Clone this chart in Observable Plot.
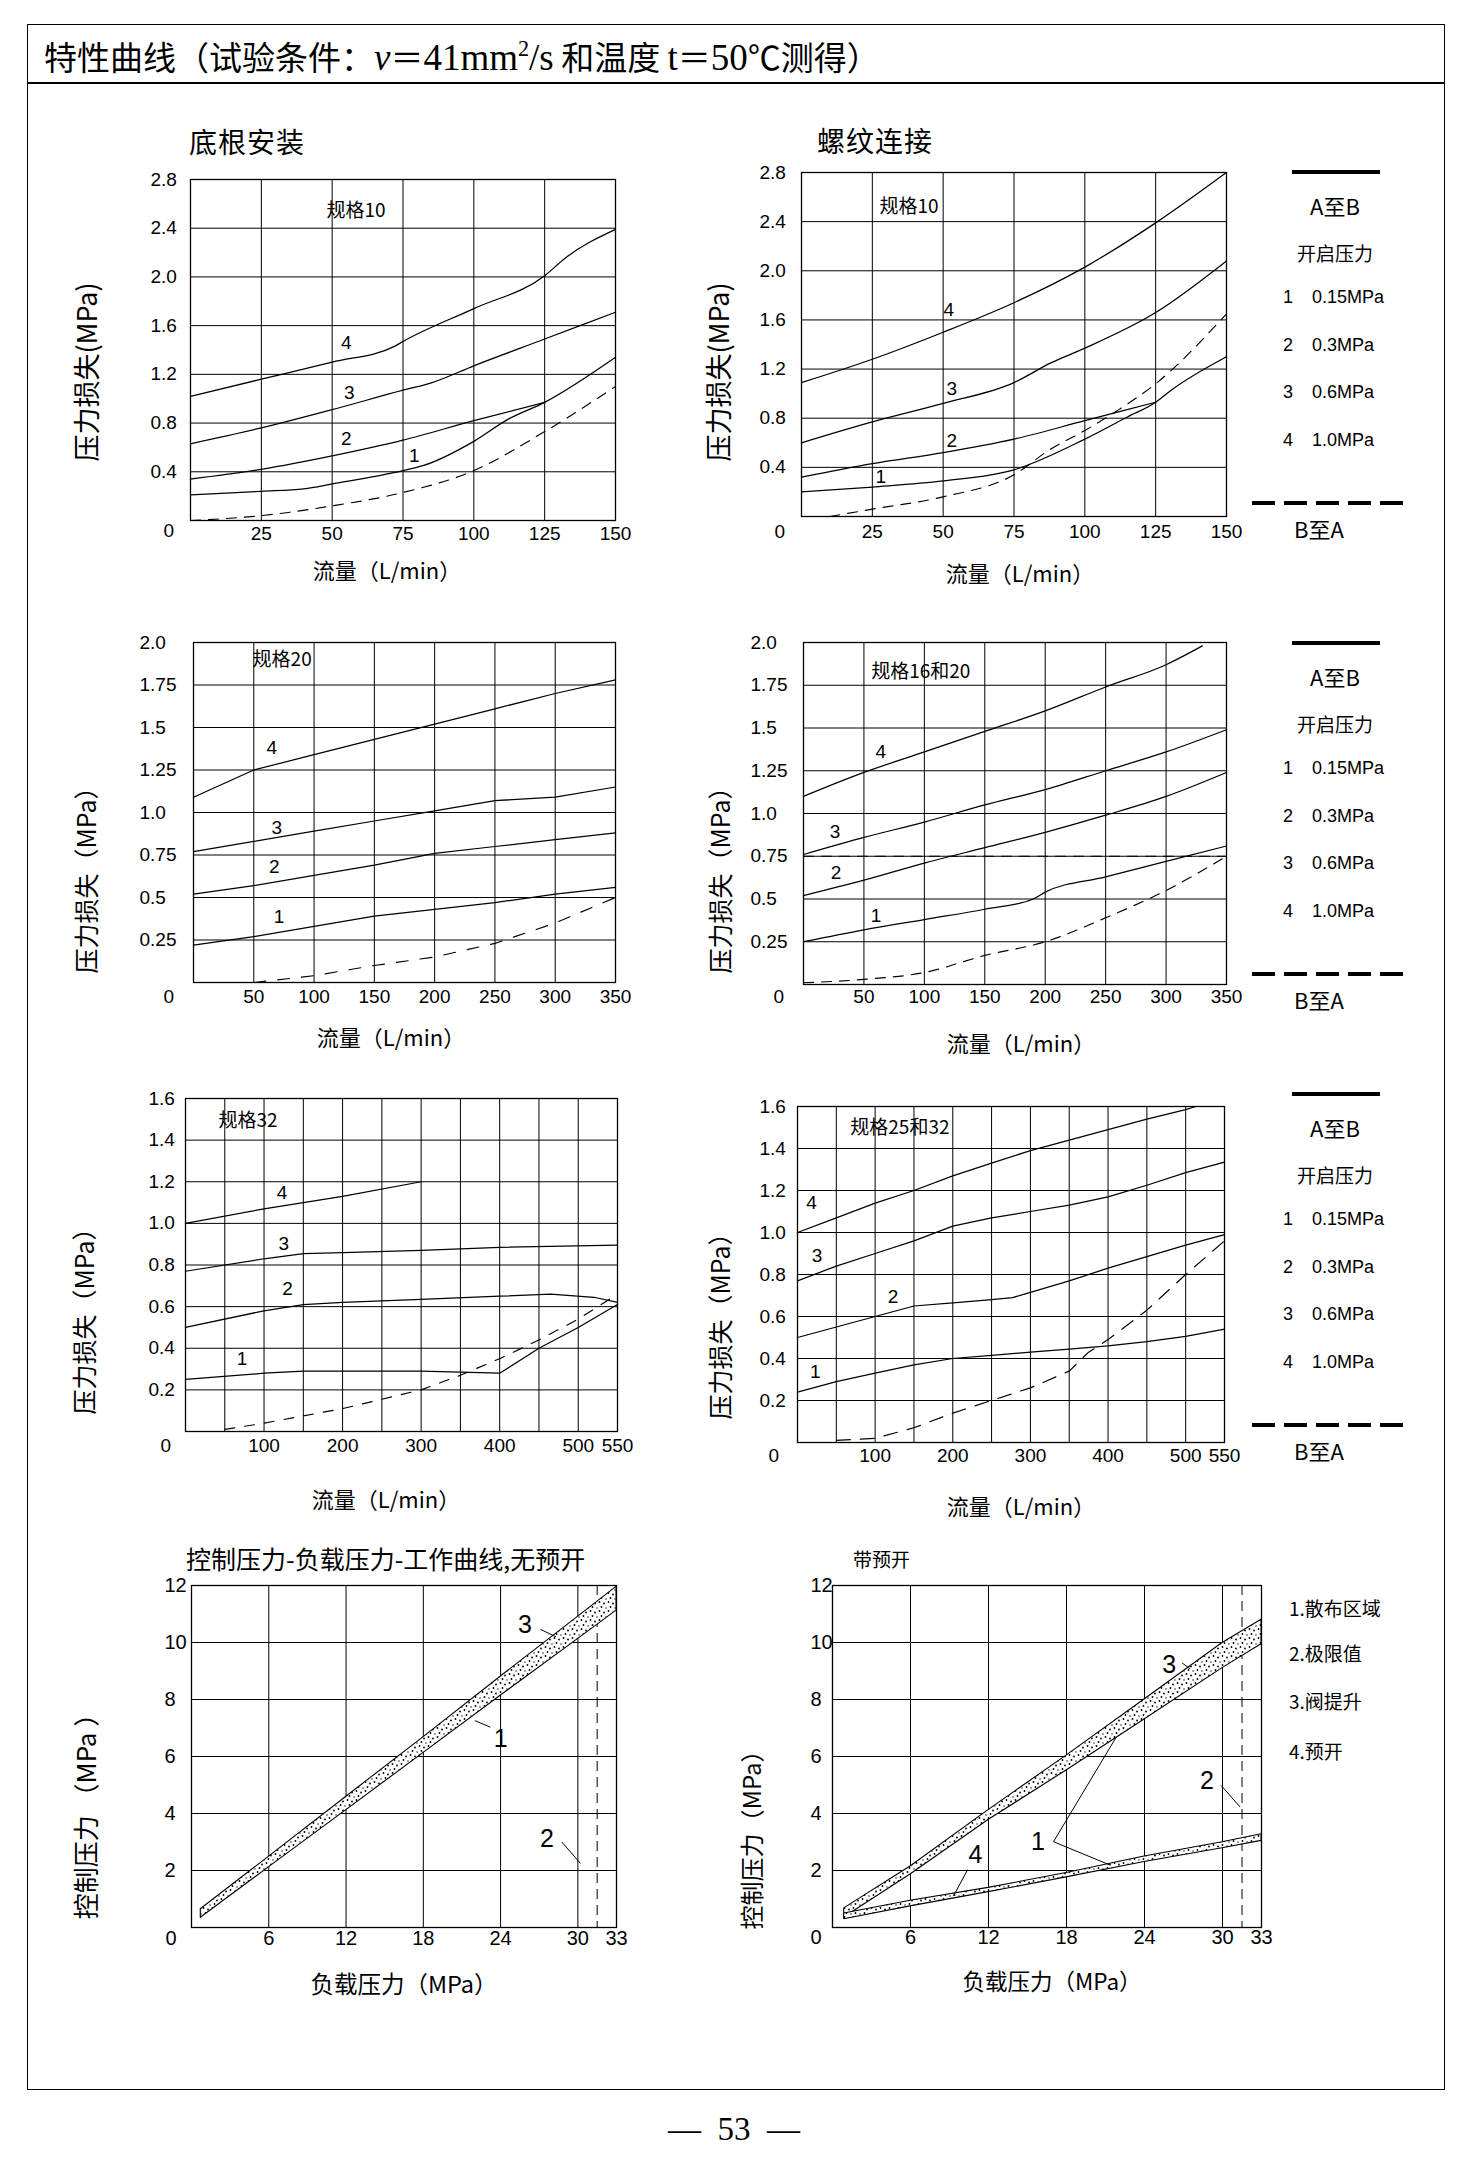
<!DOCTYPE html>
<html><head><meta charset="utf-8">
<script src="https://cdn.jsdelivr.net/npm/d3@7"></script>
<script src="https://cdn.jsdelivr.net/npm/@observablehq/plot@0.6"></script>
<style>
html,body{margin:0;padding:0;background:#fff;}
#page{position:relative;width:1472px;height:2162px;overflow:hidden;font-family:'Noto Sans CJK SC',sans-serif;color:#000;background:#fff;}
#page svg.chart{position:absolute;overflow:visible;}
.t{position:absolute;white-space:nowrap;line-height:1;}
</style></head>
<body>
<svg width="0" height="0" style="position:absolute">
  <defs>
    <pattern id="stipple" width="9" height="9" patternUnits="userSpaceOnUse">
      <rect width="9" height="9" fill="#fff"/>
      <circle cx="1.5" cy="2" r="0.9" fill="#000"/>
      <circle cx="6" cy="3.5" r="0.9" fill="#000"/>
      <circle cx="3.5" cy="7" r="0.9" fill="#000"/>
      <circle cx="8" cy="8" r="0.7" fill="#000"/>
    </pattern>
  </defs>
</svg>
<div id="page"></div>
<script>
// ---------------- DATA ----------------
// Chart 1: 底根安装, 规格10  (flow L/min, pressure loss MPa)
const c1Curve1 = [[0,0.21],[25,0.24],[40,0.26],[50,0.30],[75,0.41],[82,0.45],[100,0.65],[112,0.83],[125,0.97],[150,1.34]];
const c1Curve2 = [[0,0.34],[25,0.42],[50,0.53],[64,0.60],[75,0.66],[100,0.82],[125,0.97]];
const c1Curve3 = [[0,0.63],[25,0.76],[50,0.91],[75,1.07],[85,1.13],[100,1.27],[125,1.49],[150,1.71]];
const c1Curve4 = [[0,1.02],[25,1.16],[50,1.30],[72,1.43],[75,1.47],[100,1.74],[125,2.01],[132,2.15],[150,2.39]];
const c1DashBA = [[0,0.0],[25,0.04],[50,0.12],[75,0.23],[100,0.41],[125,0.73],[150,1.10]];
const c1CurveLabels = [["1",79,0.53],["2",55,0.67],["3",56,1.05],["4",55,1.46]];

// Chart 2: 螺纹连接, 规格10
const c2Curve1 = [[0,0.20],[25,0.24],[50,0.29],[75,0.38],[100,0.63],[115,0.81],[125,0.93],[130,1.02],[150,1.30]];
const c2Curve2 = [[0,0.32],[25,0.43],[50,0.52],[75,0.63],[100,0.78],[125,0.93]];
const c2Curve3 = [[0,0.60],[25,0.77],[50,0.92],[75,1.09],[88,1.25],[100,1.37],[125,1.66],[150,2.08]];
const c2Curve4 = [[0,1.09],[25,1.28],[50,1.50],[75,1.74],[100,2.03],[125,2.39],[150,2.80]];
const c2DashBA = [[10,0],[25,0.06],[50,0.16],[75,0.34],[88,0.55],[100,0.70],[112,0.87],[125,1.08],[150,1.65]];
const c2CurveLabels = [["1",28,0.32],["2",53,0.615],["3",53,1.04],["4",52,1.68]];

// Chart 3: 规格20
const c3Curve1 = [[0,0.22],[50,0.27],[100,0.33],[150,0.39],[200,0.43],[250,0.47],[300,0.52],[350,0.56]];
const c3Curve2 = [[0,0.52],[50,0.57],[100,0.63],[150,0.69],[200,0.76],[250,0.80],[300,0.84],[350,0.88]];
const c3Curve3 = [[0,0.77],[50,0.83],[100,0.89],[150,0.95],[200,1.01],[250,1.07],[300,1.09],[350,1.15]];
const c3Curve4 = [[0,1.09],[50,1.25],[100,1.34],[150,1.43],[200,1.52],[250,1.61],[300,1.70],[350,1.78]];
const c3DashBA = [[50,0],[100,0.04],[150,0.10],[200,0.15],[250,0.23],[300,0.35],[350,0.50]];
const c3CurveLabels = [["1",71,0.385],["2",67,0.68],["3",69,0.91],["4",65,1.38]];

// Chart 4: 规格16和20
const c4Curve1 = [[0,0.25],[50,0.32],[100,0.38],[150,0.44],[190,0.50],[200,0.54],[250,0.63],[300,0.72],[350,0.81]];
const c4Curve2 = [[0,0.52],[50,0.61],[100,0.71],[150,0.80],[200,0.89],[250,0.99],[300,1.10],[350,1.24]];
const c4Curve3 = [[0,0.76],[50,0.86],[100,0.95],[150,1.05],[200,1.14],[250,1.25],[300,1.36],[350,1.49]];
const c4Curve4 = [[0,1.10],[50,1.24],[100,1.36],[150,1.48],[200,1.60],[250,1.74],[300,1.87],[330,1.98]];
const c4DashBA = [[0,0.01],[50,0.03],[100,0.07],[150,0.17],[200,0.25],[250,0.39],[300,0.55],[350,0.75]];
const c4DashFlat = [[0,0.75],[350,0.75]];
const c4CurveLabels = [["1",60,0.40],["2",27,0.65],["3",26,0.89],["4",64,1.36]];

// Chart 5: 规格32
const c5Curve1 = [[0,0.25],[100,0.28],[150,0.29],[300,0.29],[400,0.28],[450,0.40],[500,0.50],[550,0.61]];
const c5Curve2 = [[0,0.50],[100,0.58],[150,0.61],[200,0.62],[300,0.635],[400,0.65],[465,0.66],[520,0.645],[550,0.62]];
const c5Curve3 = [[0,0.77],[100,0.83],[150,0.855],[200,0.86],[300,0.87],[400,0.885],[550,0.895]];
const c5Curve4 = [[0,1.00],[100,1.07],[150,1.10],[200,1.13],[300,1.20]];
const c5DashBA = [[50,0.01],[100,0.04],[200,0.11],[300,0.20],[350,0.27],[400,0.35],[450,0.44],[500,0.54],[550,0.66]];
const c5CurveLabels = [["1",72,0.35],["2",130,0.685],["3",125,0.90],["4",123,1.145]];

// Chart 6: 规格25和32
const c6Curve1 = [[0,0.24],[50,0.29],[100,0.33],[150,0.37],[200,0.40],[250,0.415],[300,0.43],[350,0.445],[400,0.46],[450,0.48],[500,0.505],[550,0.54]];
const c6Curve2 = [[0,0.50],[50,0.55],[100,0.60],[150,0.65],[200,0.665],[250,0.68],[277,0.69],[300,0.715],[350,0.77],[400,0.83],[450,0.885],[500,0.94],[550,0.99]];
const c6Curve3 = [[0,0.77],[50,0.84],[100,0.90],[150,0.96],[200,1.03],[250,1.07],[300,1.10],[350,1.13],[400,1.17],[450,1.225],[500,1.285],[550,1.335]];
const c6Curve4 = [[0,1.00],[50,1.07],[100,1.14],[150,1.20],[200,1.27],[250,1.33],[300,1.39],[350,1.44],[400,1.49],[450,1.54],[500,1.585],[513,1.60]];
const c6DashBA = [[50,0.01],[100,0.02],[150,0.07],[200,0.14],[250,0.20],[300,0.26],[350,0.34],[375,0.43],[400,0.49],[450,0.63],[500,0.80],[550,0.96]];
const c6CurveLabels = [["1",23,0.336],["2",123,0.695],["3",25,0.89],["4",18,1.14]];

// Chart 7: 控制压力-负载压力 (no pre-opening)
const c7Load  = [0.72, 6, 12, 18, 24, 30, 33];
const c7Lower = [0.34, 2.11, 4.11, 6.12, 8.13, 10.12, 11.12];
const c7Upper = [0.64, 2.48, 4.58, 6.67, 8.8, 10.9, 11.95];
const c7Limit = [31.5];
const c7Leaders = [[27.1,10.46,28.3,10.2],[23.2,7.03,22.0,7.26],[28.75,3.0,30.2,2.25]];
const c7Callouts = [["3",25.9,10.6],["1",24.0,6.6],["2",27.6,3.1]];

// Chart 8: 带预开
const c8Load = [0.9, 6, 12, 18, 24, 30, 33];
const c8LiftLower = [0.35, 1.86, 3.77, 5.51, 7.3, 9.1, 9.94];
const c8LiftUpper = [0.67, 2.14, 4.12, 6.03, 8.0, 9.98, 10.8];
const c8PreLower  = [0.29, 0.74, 1.24, 1.76, 2.30, 2.78, 3.04];
const c8PreUpper  = [0.49, 0.94, 1.39, 1.91, 2.49, 2.99, 3.27];
const c8Limit = [31.5];
const c8Leaders = [[26.9,9.28,27.5,9.08],[21.8,6.66,17.0,3.01],[17.0,3.01,21.3,2.2],[29.9,4.98,31.35,4.23],[10.4,2.03,9.3,1.1]];
const c8Callouts = [["3",25.9,9.2],["1",15.8,3.0],["2",28.8,5.15],["4",11.0,2.55]];
const c8Legend = ["1.散布区域","2.极限值","3.阀提升","4.预开"];

// Ticks
const tick10X = [25,50,75,100,125,150];
const tick10Y = [0.4,0.8,1.2,1.6,2.0,2.4,2.8];
const tick10YLabels = ["0.4","0.8","1.2","1.6","2.0","2.4","2.8"];
const tick20X = [50,100,150,200,250,300,350];
const tick20Y = [0.25,0.5,0.75,1.0,1.25,1.5,1.75,2.0];
const tick20YLabels = ["0.25","0.5","0.75","1.0","1.25","1.5","1.75","2.0"];
const tick32X = [100,200,300,400,500,550];
const grid32X = [50,100,150,200,250,300,350,400,450,500];
const tick32Y = [0.2,0.4,0.6,0.8,1.0,1.2,1.4,1.6];
const tick32YLabels = ["0.2","0.4","0.6","0.8","1.0","1.2","1.4","1.6"];
const tickPX = [6,12,18,24,30,33];
const tickPY = [2,4,6,8,10,12];

// Legend
const openLabels = ["1","2","3","4"];
const openValues = ["0.15MPa","0.3MPa","0.6MPa","1.0MPa"];

// ---------------- DRAWING ----------------
const CJK = "'Noto Sans CJK SC', sans-serif";
const NUM = "'Liberation Sans', Arial, sans-serif";
const SERIF = "'Liberation Serif', 'Times New Roman', serif";
const page = document.getElementById("page");

function addText(html, x, y, o = {}) {
  const d = document.createElement("div");
  d.className = "t";
  d.innerHTML = html;
  const ax = o.anchor === "start" ? "0" : o.anchor === "end" ? "-100%" : "-50%";
  d.style.left = x + "px"; d.style.top = y + "px";
  d.style.fontSize = (o.size || 18) + "px";
  d.style.fontFamily = o.family || CJK;
  if (o.ls) d.style.letterSpacing = o.ls + "px";
  if (o.weight) d.style.fontWeight = o.weight;
  d.style.transform = `translate(${ax},-50%)` + (o.rotate ? ` rotate(${o.rotate}deg)` : "");
  page.appendChild(d);
}
function addBox(x, y, w, h, css) {
  const d = document.createElement("div");
  d.style.cssText = `position:absolute;left:${x}px;top:${y}px;width:${w}px;height:${h}px;${css}`;
  page.appendChild(d);
}
function addDashed(x1, x2, y, sw) {
  const ns = "http://www.w3.org/2000/svg";
  const s = document.createElementNS(ns, "svg");
  s.setAttribute("width", x2 - x1); s.setAttribute("height", 10);
  s.style.cssText = `position:absolute;left:${x1}px;top:${y - 5}px;`;
  const l = document.createElementNS(ns, "line");
  l.setAttribute("x1", 0); l.setAttribute("x2", x2 - x1); l.setAttribute("y1", 5); l.setAttribute("y2", 5);
  l.setAttribute("stroke", "#000"); l.setAttribute("stroke-width", sw); l.setAttribute("stroke-dasharray", "23,9");
  s.appendChild(l); page.appendChild(s);
}

const toRows = (arr) => arr.flatMap((s, k) => s.map(([x, y]) => ({x, y, k})));

function chart(c) {
  const mL = 160, mR = 30, mT = 30, mB = 90;
  const [fl, ft, fr, fb] = c.frame;
  const fw = fr - fl, fh = fb - ft;
  const marks = [
    Plot.ruleX(c.xGrid, {stroke: "#000", strokeWidth: 1}),
    Plot.ruleY(c.yGrid, {stroke: "#000", strokeWidth: 1}),
    Plot.frame({stroke: "#000", strokeWidth: 1.3})
  ];
  if (c.limit) marks.push(Plot.ruleX(c.limit, {stroke: "#000", strokeWidth: 1, strokeDasharray: "10,6"}));
  if (c.bands) for (const b of c.bands) {
    const rows = b.x.map((x, i) => ({x, lo: b.lo[i], hi: b.hi[i]}));
    marks.push(Plot.areaY(rows, {x: "x", y1: "lo", y2: "hi", fill: "url(#stipple)", stroke: "#000", strokeWidth: 1.1}));
  }
  if (c.solid) marks.push(Plot.line(toRows(c.solid), {x: "x", y: "y", z: "k", stroke: "#000", strokeWidth: 1.25, curve: c.curve || "monotone-x"}));
  if (c.dashed) marks.push(Plot.line(toRows(c.dashed), {x: "x", y: "y", z: "k", stroke: "#000", strokeWidth: 1.15, strokeDasharray: c.dash || "10,8", curve: c.curve || "monotone-x"}));
  if (c.leaders) marks.push(Plot.link(c.leaders, {x1: d => d[0], y1: d => d[1], x2: d => d[2], y2: d => d[3], stroke: "#000", strokeWidth: 1}));
  marks.push(Plot.text(c.yTicks.map((v, i) => ({v, t: c.yTickLabels[i]})), {y: "v", text: "t", frameAnchor: "left", textAnchor: "start", dx: -c.yTickDx, fontSize: c.tickSize, fontFamily: NUM}));
  marks.push(Plot.text(c.xTicks.map(v => ({v, t: String(v)})), {x: "v", text: "t", frameAnchor: "bottom", dy: c.xTickDy, fontSize: c.tickSize, fontFamily: NUM}));
  marks.push(Plot.text(["0"], {text: d => d, frameAnchor: "bottom-left", dx: c.zero[0], dy: c.zero[1], fontSize: c.tickSize, fontFamily: NUM}));
  if (c.labels) marks.push(Plot.text(c.labels, {x: d => d[1], y: d => d[2], text: d => d[0], fontSize: c.labelSize || 19, fontFamily: NUM}));
  if (c.note) marks.push(Plot.text([c.note], {x: d => d[1], y: d => d[2], text: d => d[0], textAnchor: "start", fontSize: 19, fontFamily: CJK}));
  const svg = Plot.plot({
    width: fw + mL + mR, height: fh + mT + mB,
    marginLeft: mL, marginRight: mR, marginTop: mT, marginBottom: mB,
    x: {domain: c.xDomain, axis: null},
    y: {domain: c.yDomain, axis: null},
    style: {fontFamily: CJK, color: "#000", background: "transparent", overflow: "visible"},
    marks
  });
  svg.classList.add("chart");
  svg.style.left = (fl - mL) + "px";
  svg.style.top = (ft - mT) + "px";
  page.appendChild(svg);
}

function legendAB(y0) {
  addBox(1292, y0 - 2, 88, 4, "background:#000;");
  addText("A至B", 1335, y0 + 33, {size: 22});
  addText("开启压力", 1335, y0 + 80, {size: 19});
  openLabels.forEach((n, i) => {
    const y = y0 + 125 + i * 47.5;
    addText(n, 1288, y, {size: 18, family: NUM});
    addText(openValues[i], 1312, y, {size: 18, family: NUM, anchor: "start"});
  });
  addDashed(1252, 1412, y0 + 331, 4);
  addText("B至A", 1319, y0 + 356, {size: 22});
}

// Page frame
addBox(27, 24, 1418, 2066, "border:1.5px solid #000;box-sizing:border-box;");
addBox(27, 82, 1418, 1.5, "background:#000;");
const S = (s) => '<span style="font-family:' + SERIF + ';font-size:37px">' + s + '</span>';
addText('特性曲线（试验条件：' + S('<i>v</i>') + '＝' + S('41mm<sup style="font-size:60%;line-height:0">2</sup>/s') + ' 和温度 ' + S('t') + '＝' + S('50') + '℃测得）', 44, 57, {size: 33, anchor: "start"});
addText("—&nbsp; 53 &nbsp;—", 734, 2129, {size: 33, family: SERIF});

// Chart 1
addText("底根安装", 189, 141, {size: 28, anchor: "start", ls: 1});
chart({frame: [190, 179, 615, 520], xDomain: [0, 150], yDomain: [0, 2.8],
  xTicks: tick10X, xGrid: tick10X.slice(0, -1), yTicks: tick10Y, yTickLabels: tick10YLabels, yGrid: tick10Y.slice(0, -1),
  yTickDx: 40, xTickDy: 19, zero: [-27, 16], tickSize: 19,
  solid: [c1Curve1, c1Curve2, c1Curve3, c1Curve4], dashed: [c1DashBA],
  labels: c1CurveLabels, note: ["规格10", 48, 2.54]});
addText("压力损失(MPa)", 85, 372, {size: 27, rotate: -90});
addText("流量（L/min）", 387, 569, {size: 22});

// Chart 2
addText("螺纹连接", 817, 140, {size: 28, anchor: "start", ls: 1});
chart({frame: [801, 172, 1226, 516], xDomain: [0, 150], yDomain: [0, 2.8],
  xTicks: tick10X, xGrid: tick10X.slice(0, -1), yTicks: tick10Y, yTickLabels: tick10YLabels, yGrid: tick10Y.slice(0, -1),
  yTickDx: 42, xTickDy: 21, zero: [-27, 21], tickSize: 19,
  solid: [c2Curve1, c2Curve2, c2Curve3, c2Curve4], dashed: [c2DashBA],
  labels: c2CurveLabels, note: ["规格10", 27.5, 2.52]});
addText("压力损失(MPa)", 717, 372, {size: 27, rotate: -90});
addText("流量（L/min）", 1020, 572, {size: 22});
legendAB(172);

// Chart 3
chart({frame: [193, 642, 615, 982], xDomain: [0, 350], yDomain: [0, 2],
  xTicks: tick20X, xGrid: tick20X.slice(0, -1), yTicks: tick20Y, yTickLabels: tick20YLabels, yGrid: tick20Y.slice(0, -1),
  yTickDx: 54, xTickDy: 20, zero: [-30, 20], tickSize: 19, curve: "linear",
  solid: [c3Curve1, c3Curve2, c3Curve3, c3Curve4], dashed: [c3DashBA], dash: "12,12",
  labels: c3CurveLabels, note: ["规格20", 49, 1.90]});
addText("压力损失（MPa）", 85, 874, {size: 25, rotate: -90});
addText("流量（L/min）", 391, 1036, {size: 22});

// Chart 4
chart({frame: [803, 642, 1226, 984], xDomain: [0, 350], yDomain: [0, 2],
  xTicks: tick20X, xGrid: tick20X.slice(0, -1), yTicks: tick20Y, yTickLabels: tick20YLabels, yGrid: tick20Y.slice(0, -1),
  yTickDx: 53, xTickDy: 18, zero: [-30, 18], tickSize: 19,
  solid: [c4Curve1, c4Curve2, c4Curve3, c4Curve4], dashed: [c4DashBA, c4DashFlat],
  labels: c4CurveLabels, note: ["规格16和20", 56, 1.83]});
addText("压力损失（MPa）", 719, 874, {size: 25, rotate: -90});
addText("流量（L/min）", 1021, 1042, {size: 22});
legendAB(643);

// Chart 5
chart({frame: [185, 1098, 617, 1431], xDomain: [0, 550], yDomain: [0, 1.6],
  xTicks: tick32X, xGrid: grid32X, yTicks: tick32Y, yTickLabels: tick32YLabels, yGrid: tick32Y.slice(0, -1),
  yTickDx: 37, xTickDy: 20, zero: [-25, 20], tickSize: 19, curve: "linear",
  solid: [c5Curve1, c5Curve2, c5Curve3, c5Curve4], dashed: [c5DashBA], dash: "10,10",
  labels: c5CurveLabels, note: ["规格32", 42, 1.49]});
addText("压力损失（MPa）", 83, 1315, {size: 25, rotate: -90});
addText("流量（L/min）", 386, 1498, {size: 22});

// Chart 6
chart({frame: [797, 1106, 1224, 1442], xDomain: [0, 550], yDomain: [0, 1.6],
  xTicks: tick32X, xGrid: grid32X, yTicks: tick32Y, yTickLabels: tick32YLabels, yGrid: tick32Y.slice(0, -1),
  yTickDx: 38, xTickDy: 19, zero: [-29, 19], tickSize: 19, curve: "linear",
  solid: [c6Curve1, c6Curve2, c6Curve3, c6Curve4], dashed: [c6DashBA], dash: "14,10",
  labels: c6CurveLabels, note: ["规格25和32", 68, 1.50]});
addText("压力损失（MPa）", 719, 1320, {size: 25, rotate: -90});
addText("流量（L/min）", 1021, 1505, {size: 22});
legendAB(1094);

// Chart 7
addText("控制压力-负载压力-工作曲线,无预开", 186, 1558, {size: 25, anchor: "start"});
chart({frame: [191, 1585, 616, 1927], xDomain: [0, 33], yDomain: [0, 12],
  xTicks: tickPX, xGrid: tickPX.slice(0, -1), yTicks: tickPY, yTickLabels: tickPY.map(String), yGrid: tickPY.slice(0, -1),
  yTickDx: 27, xTickDy: 17, zero: [-26, 17], tickSize: 20,
  bands: [{x: c7Load, lo: c7Lower, hi: c7Upper}], limit: c7Limit,
  leaders: c7Leaders, labels: c7Callouts, labelSize: 25});
addText("控制压力 （MPa ）", 85, 1810, {size: 26, rotate: -90});
addText("负载压力（MPa）", 404, 1984, {size: 23.5});

// Chart 8
addText("带预开", 853, 1558, {size: 19, anchor: "start"});
chart({frame: [832, 1585, 1261, 1927], xDomain: [0, 33], yDomain: [0, 12],
  xTicks: tickPX, xGrid: tickPX.slice(0, -1), yTicks: tickPY, yTickLabels: tickPY.map(String), yGrid: tickPY.slice(0, -1),
  yTickDx: 22, xTickDy: 16, zero: [-22, 16], tickSize: 20,
  bands: [{x: c8Load, lo: c8LiftLower, hi: c8LiftUpper}, {x: c8Load, lo: c8PreLower, hi: c8PreUpper}], limit: c8Limit,
  leaders: c8Leaders, labels: c8Callouts, labelSize: 25});
addText("控制压力（MPa）", 751, 1834, {size: 24, rotate: -90});
addText("负载压力（MPa）", 1052, 1980, {size: 22.5});
c8Legend.forEach((t, i) => addText(t, 1289, [1607, 1652, 1700, 1750][i], {size: 19, anchor: "start"}));
</script>
</body></html>
